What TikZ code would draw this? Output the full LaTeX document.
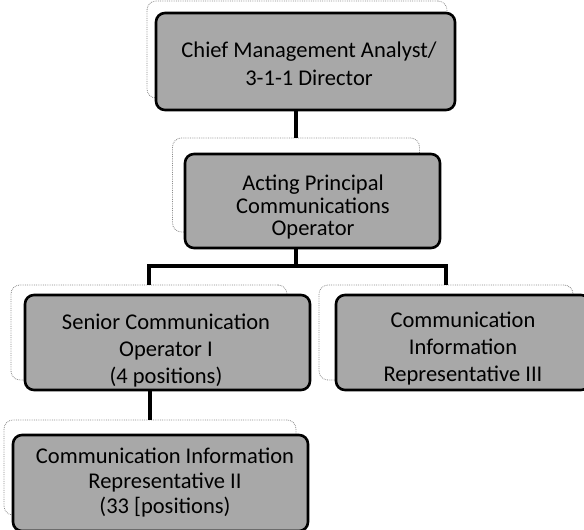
\documentclass[tikz,border=0pt]{standalone}
\usepackage{fontspec}
\setmainfont{Carlito}
\begin{document}
\begin{tikzpicture}[x=1pt,y=-1pt,
  post/.style={draw=black, line width=2.6pt, rounded corners=9pt, fill=black!34, inner sep=0pt},
  ghost/.style={draw=black!45, densely dotted, line width=0.8pt, rounded corners=9pt, inner sep=0pt},
  lbl/.style={align=center, inner sep=0pt, text=black},
  wire/.style={draw=black, line width=4.5pt}
]
\useasboundingbox (0,0) rectangle (584,530);
\clip (0,0) rectangle (584,530);

% faint layout frames sitting behind each post
\node[ghost, minimum width=300pt, minimum height=97pt] (g1) at (297,49.5) {};
\node[ghost, minimum width=247pt, minimum height=94pt] (g2) at (296,185) {};
\node[ghost, minimum width=276pt, minimum height=95pt] (gs) at (149,332.5) {};
\node[ghost, minimum width=254pt, minimum height=95pt] (gr) at (446,332.5) {};
\node[ghost, minimum width=292pt, minimum height=95pt] (gb) at (150,467.5) {};

% posts
\node[post, minimum width=299pt, minimum height=97pt] (b1) at (305.5,61.5) {};
\node[post, minimum width=255pt, minimum height=94pt] (b2) at (312.5,201) {};
\node[post, minimum width=285pt, minimum height=95pt] (bs) at (167.5,342.5) {};
\node[post, minimum width=254pt, minimum height=95pt] (br) at (463,342.5) {};
\node[post, minimum width=295pt, minimum height=96pt] (bb) at (160.5,483) {};

% titles
\node[lbl, font=\fontsize{22.5}{28}\selectfont] (t1) at (309,64)
  {Chief Management Analyst/\\3-1-1 Director};
\node[lbl, font=\fontsize{22.5}{22.5}\selectfont] (t2) at (313,207)
  {Acting Principal\\Communications\\Operator};
\node[lbl, font=\fontsize{22.5}{27}\selectfont] (ts) at (166,351)
  {Senior Communication\\Operator I\\(4 positions)};
\node[lbl, font=\fontsize{22.5}{27}\selectfont] (tr) at (463,349)
  {Communication\\Information\\Representative III};
\node[lbl, font=\fontsize{22.5}{25}\selectfont] (tb) at (165,483)
  {Communication Information\\Representative II\\(33 [positions)};

% reporting lines
\coordinate (bar) at (0,266);
\draw[wire] (g2.north |- b1.south) -- (g2.north);
\draw[wire] (g2.north |- b2.south) -- (g2.north |- bar);
\draw[wire] (gs.north) -- (gs.north |- bar) -- (gr.north |- bar) -- (gr.north);
\draw[wire] (gb.north |- bs.south) -- (gb.north);
\end{tikzpicture}
\end{document}
